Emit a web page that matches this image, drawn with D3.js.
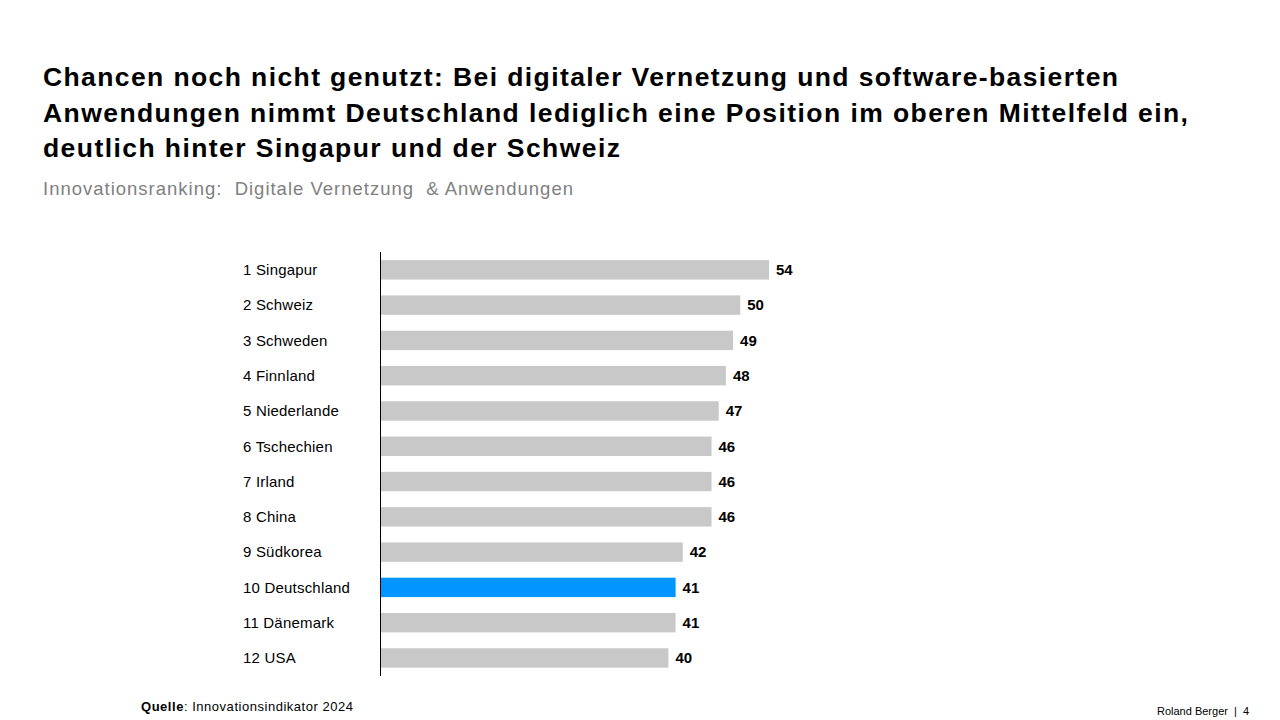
<!DOCTYPE html>
<html><head><meta charset="utf-8">
<script src="https://cdn.jsdelivr.net/npm/d3@7"></script>
<style>body{margin:0;background:#fff}svg{display:block;font-family:"Liberation Sans",Arial,sans-serif}</style>
</head><body>
<svg id="c" width="1280" height="720"></svg>
<script>
const categories = ["1 Singapur","2 Schweiz","3 Schweden","4 Finnland","5 Niederlande","6 Tschechien","7 Irland","8 China","9 Südkorea","10 Deutschland","11 Dänemark","12 USA"];
const values = [54,50,49,48,47,46,46,46,42,41,41,40];
const highlight = "10 Deutschland";
const titleLines = ["Chancen noch nicht genutzt: Bei digitaler Vernetzung und software-basierten","Anwendungen nimmt Deutschland lediglich eine Position im oberen Mittelfeld ein,","deutlich hinter Singapur und der Schweiz"];
const subtitle = "Innovationsranking:  Digitale Vernetzung  & Anwendungen";

const svg = d3.select("#c");
const x = d3.scaleLinear().domain([0,54]).range([381,769]);
const y = d3.scaleBand().domain(categories).range([252.2,675.6]).paddingInner(0.45).paddingOuter(0.225);

function fit(sel, target){
  sel.each(function(){
    const w = this.getComputedTextLength();
    const n = this.textContent.length;
    if(n>1) d3.select(this).attr("letter-spacing", ((target - w)/(n-1)).toFixed(3));
  });
}

const titleEnds = [1118,1188,620];
titleLines.forEach((t,i)=>{
  const el = svg.append("text").attr("x",43).attr("y",86+i*35.5).attr("font-size",26.5).attr("font-weight","bold").attr("fill","#000").text(t);
  fit(el, titleEnds[i]-43);
});
const st = svg.append("text").attr("x",43).attr("y",194.5).attr("font-size",18.5).attr("fill","#808080").attr("xml:space","preserve").style("white-space","pre").text(subtitle);
fit(st, 573-43);

svg.append("g").selectAll("rect").data(categories).join("rect")
  .attr("x",x(0)).attr("y",d=>y(d)).attr("height",y.bandwidth())
  .attr("width",(d,i)=>x(values[i])-x(0))
  .attr("fill",d=>d===highlight?"#0095FF":"#C8C8C8");

svg.append("g").selectAll("text").data(categories).join("text")
  .attr("x",243).attr("y",d=>y(d)+y.bandwidth()/2).attr("dy","0.35em")
  .attr("font-size",15).attr("letter-spacing",0.2).attr("fill","#000").text(d=>d);

svg.append("g").selectAll("text").data(categories).join("text")
  .attr("x",(d,i)=>x(values[i])+7).attr("y",d=>y(d)+y.bandwidth()/2).attr("dy","0.35em")
  .attr("font-size",15).attr("font-weight","bold").attr("fill","#000").text((d,i)=>values[i]);

svg.append("line").attr("x1",380.5).attr("x2",380.5).attr("y1",252).attr("y2",676).attr("stroke","#000").attr("stroke-width",1);

const q = svg.append("text").attr("x",141).attr("y",711).attr("font-size",13).attr("fill","#000");
q.append("tspan").attr("font-weight","bold").text("Quelle");
q.append("tspan").text(": Innovationsindikator 2024");
fit(q, 353-141);

svg.append("text").attr("x",1157).attr("y",715).attr("font-size",11).attr("fill","#000").attr("xml:space","preserve").style("white-space","pre").text("Roland Berger  |  4");
</script>
</body></html>
